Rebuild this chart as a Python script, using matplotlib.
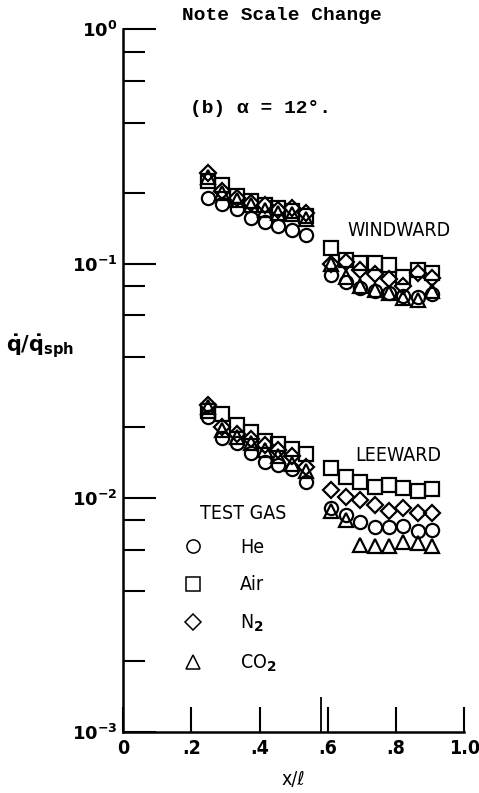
import matplotlib
matplotlib.use('Agg')
import matplotlib.pyplot as plt
from matplotlib import ticker

# Measurement stations (x/L) for the fore and aft body segments
x_fore = [0.25, 0.29, 0.335, 0.375, 0.415, 0.455, 0.495, 0.535]
x_aft = [0.61, 0.655, 0.695, 0.74, 0.78, 0.82, 0.865, 0.905]

# Windward heating ratio
he_wind_fore = [0.19, 0.18, 0.171, 0.156, 0.150, 0.144, 0.139, 0.132]
air_wind_fore = [0.225, 0.216, 0.195, 0.185, 0.178, 0.172, 0.167, 0.16]
n2_wind_fore = [0.243, 0.205, 0.19, 0.182, 0.178, 0.17, 0.172, 0.165]
co2_wind_fore = [0.235, 0.2, 0.186, 0.178, 0.17, 0.164, 0.162, 0.155]

he_wind_aft = [0.089, 0.083, 0.079, 0.076, 0.075, 0.073, 0.072, 0.074]
air_wind_aft = [0.116, 0.104, 0.101, 0.101, 0.099, 0.088, 0.094, 0.091]
n2_wind_aft = [0.100, 0.102, 0.094, 0.090, 0.086, 0.080, 0.091, 0.087]
co2_wind_aft = [0.100, 0.088, 0.080, 0.077, 0.075, 0.071, 0.070, 0.076]

# Leeward heating ratio
he_lee_fore = [0.0221, 0.0180, 0.0171, 0.0155, 0.0142, 0.0138, 0.0133, 0.0117]
air_lee_fore = [0.0235, 0.0228, 0.0205, 0.0190, 0.0175, 0.0170, 0.0162, 0.0153]
n2_lee_fore = [0.0250, 0.0200, 0.0187, 0.0178, 0.0168, 0.0160, 0.0150, 0.0135]
co2_lee_fore = [0.0245, 0.0195, 0.0182, 0.0172, 0.0160, 0.0150, 0.0140, 0.0130]

he_lee_aft = [0.0090, 0.0084, 0.0079, 0.0075, 0.0075, 0.0076, 0.0072, 0.0073]
air_lee_aft = [0.0134, 0.0123, 0.0117, 0.0111, 0.0113, 0.0110, 0.0107, 0.0109]
n2_lee_aft = [0.0108, 0.0101, 0.0098, 0.0093, 0.0088, 0.0090, 0.0086, 0.0086]
co2_lee_aft = [0.0088, 0.0080, 0.0063, 0.0062, 0.0062, 0.0065, 0.0064, 0.0062]

gases = ['He', 'Air', 'N$_2$', 'CO$_2$']
markers = ['o', 's', 'D', '^']

x_ticks = [0, 0.2, 0.4, 0.6, 0.8, 1.0]
x_ticklabels = ['0', '.2', '.4', '.6', '.8', '1.0']
x_break = [0.58]
y_ticks = [1e-3, 1e-2, 1e-1, 1e0]
y_ticklabels = [r'$10^{-3}$', r'$10^{-2}$', r'$10^{-1}$', r'$10^{0}$']

mono = ['Liberation Mono', 'DejaVu Sans Mono']

plt.rcParams['mathtext.fontset'] = 'dejavusans'
plt.rcParams['mathtext.default'] = 'bf'

fig = plt.figure(figsize=(4.79, 7.93), dpi=100)
ax = fig.add_axes([0.257, 0.077, 0.712, 0.886])

series = [
    (he_wind_fore, he_wind_aft, he_lee_fore, he_lee_aft),
    (air_wind_fore, air_wind_aft, air_lee_fore, air_lee_aft),
    (n2_wind_fore, n2_wind_aft, n2_lee_fore, n2_lee_aft),
    (co2_wind_fore, co2_wind_aft, co2_lee_fore, co2_lee_aft),
]
for gas, mk, (wf, wa, lf, la) in zip(gases, markers, series):
    xs = x_fore + x_aft + x_fore + x_aft
    ys = wf + wa + lf + la
    ms = 8.5 if mk == 'D' else 9.5
    ax.plot(xs, ys, linestyle='none', marker=mk, markersize=ms,
            markerfacecolor='none', markeredgecolor='black',
            markeredgewidth=1.6, label=gas)

ax.set_yscale('log')
ax.set_xlim(0, 1.0)
ax.set_ylim(1e-3, 1e0)

for side in ['top', 'right']:
    ax.spines[side].set_visible(False)
for side in ['left', 'bottom']:
    ax.spines[side].set_linewidth(1.8)

ax.set_xticks(x_ticks, labels=x_ticklabels)
ax.set_xticks(x_break, minor=True)
ax.set_yticks(y_ticks, labels=y_ticklabels)
ax.yaxis.set_minor_locator(ticker.LogLocator(subs=(2, 4, 6, 8)))
ax.yaxis.set_minor_formatter(ticker.NullFormatter())

ax.tick_params(axis='y', which='major', direction='in', length=24, width=1.5,
               labelsize=13, pad=4)
ax.tick_params(axis='y', which='minor', direction='in', length=16, width=1.5)
ax.tick_params(axis='x', which='major', direction='in', length=18, width=1.5,
               labelsize=14, pad=5)
ax.tick_params(axis='x', which='minor', direction='in', length=25, width=1.3)
for lab in ax.get_xticklabels():
    lab.set_fontweight('bold')
    lab.set_fontstretch('condensed')

ax.set_xlabel('x/ℓ', fontsize=14, fontstretch='condensed', va='center')
ax.xaxis.set_label_coords(0.5, -0.068)
ax.set_ylabel(r'$\dot{q}/\dot{q}_{sph}$', fontsize=15, rotation=0,
              ha='center', va='center')
ax.yaxis.set_label_coords(-0.243, 0.548)

ax.text(0.173, 1.02, 'Note Scale Change', transform=ax.transAxes,
        fontsize=14, fontweight='bold', family=mono, va='center')
ax.text(0.196, 0.888, '(b) α = 12°.', transform=ax.transAxes,
        fontsize=14, fontweight='bold', family=mono, va='center')
ax.text(0.657, 0.714, 'WINDWARD', transform=ax.transAxes,
        fontsize=14, fontstretch='condensed', va='center')
ax.text(0.680, 0.394, 'LEEWARD', transform=ax.transAxes,
        fontsize=14, fontstretch='condensed', va='center')
ax.text(0.226, 0.3115, 'TEST GAS', transform=ax.transAxes,
        fontsize=14, fontstretch='condensed', va='center')

leg = ax.legend(loc='upper left', bbox_to_anchor=(0.149, 0.29),
                frameon=False, borderpad=0, handlelength=1.0,
                handletextpad=1.9, labelspacing=0.95,
                prop={'size': 14, 'stretch': 'condensed'})
for h in leg.legend_handles:
    h.set_markeredgewidth(1.1)

fig.savefig('out.png', dpi=100)
